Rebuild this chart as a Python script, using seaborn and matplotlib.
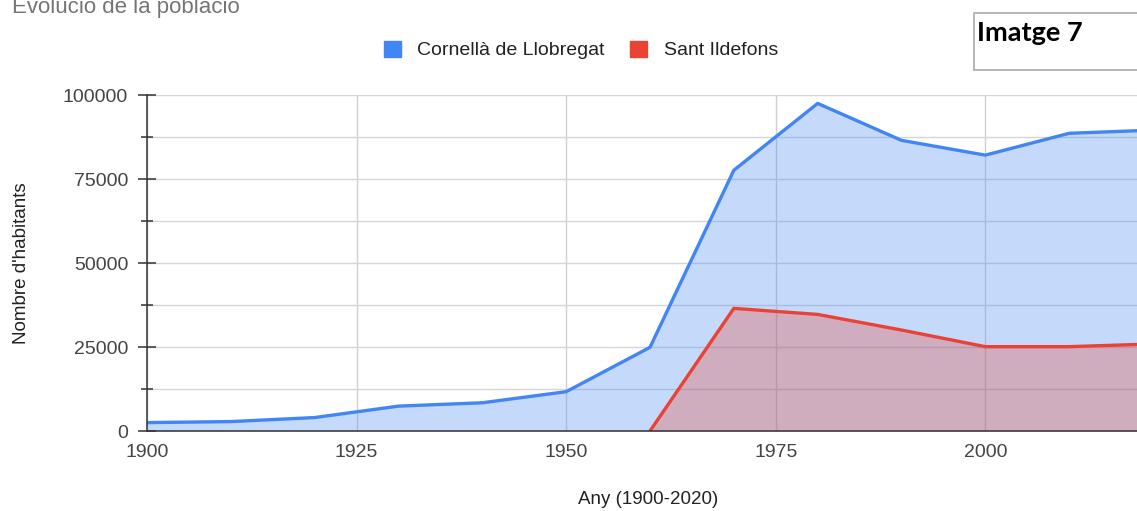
import numpy as np
import pandas as pd
import seaborn as sn
import matplotlib.pyplot as plt
from matplotlib.patches import Patch, Rectangle
from matplotlib.ticker import MultipleLocator

# population values
years = [1900, 1910, 1920, 1930, 1940, 1950, 1960, 1970, 1980, 1990, 2000, 2010, 2020]
cornella = [2500, 2800, 4000, 7400, 8400, 11700, 24900, 77600, 97500, 86500, 82100, 88600, 89550]
sant_ildefons = [np.nan, np.nan, np.nan, np.nan, np.nan, np.nan, 0, 36500, 34700, 30050, 25100, 25100, 25900]
series_names = ["Cornellà de Llobregat", "Sant Ildefons"]
series_colors = ["#4285F4", "#EA4335"]
x_ticks = [1900, 1925, 1950, 1975, 2000]

df = pd.DataFrame({"Any": years, series_names[0]: cornella, series_names[1]: sant_ildefons})

sn.set_style("white")
plt.rcParams["font.family"] = ["Liberation Sans", "DejaVu Sans"]

fig = plt.figure(figsize=(11.37, 5.11), dpi=100)
# plot area runs past the right edge, like the cropped screenshot
ax = fig.add_axes([147 / 1137, 80 / 511, 1006 / 1137, 336 / 511])

for name, col in zip(series_names, series_colors):
    d = df[["Any", name]].dropna()
    ax.fill_between(d["Any"], 0, d[name], color=col, alpha=0.3, linewidth=0, zorder=2)
for name, col in zip(series_names, series_colors):
    d = df[["Any", name]].dropna()
    sn.lineplot(data=d, x="Any", y=name, ax=ax, color=col, linewidth=2.4, zorder=3)

ax.set_xlim(1900, 2020)
ax.set_ylim(0, 100000)
ax.set_xticks(x_ticks)
ax.yaxis.set_major_locator(MultipleLocator(25000))
ax.yaxis.set_minor_locator(MultipleLocator(12500))

ax.grid(True, which="major", axis="x", color="#d0d0d0", linewidth=1.0, zorder=0)
ax.grid(True, which="both", axis="y", color="#d6d6d6", linewidth=1.0, zorder=0)
ax.set_axisbelow(True)

for s in ["top", "right"]:
    ax.spines[s].set_visible(False)
for s in ["left", "bottom"]:
    ax.spines[s].set_color("#333333")
    ax.spines[s].set_linewidth(1.1)
    ax.spines[s].set_zorder(5)

ax.tick_params(axis="x", length=0, pad=9, labelsize=14, labelcolor="#444444")
ax.tick_params(axis="y", which="major", left=True, direction="inout", length=13, width=1.1,
               color="#333333", pad=7, labelsize=14, labelcolor="#444444")
ax.tick_params(axis="y", which="minor", left=True, direction="inout", length=8.5, width=1.1,
               color="#333333")

ax.set_xlabel("Any (1900-2020)", fontsize=13.5, color="#222222")
ax.set_ylabel("Nombre d'habitants", fontsize=13.5, color="#222222")
ax.xaxis.set_label_coords((648 - 147) / 1006, (431 - 491) / 336)
ax.yaxis.set_label_coords((30 - 147) / 1006, 0.5)

handles = [Patch(facecolor=c, edgecolor=c) for c in series_colors]
fig.legend(handles, series_names, loc="center", bbox_to_anchor=(581 / 1137, 1 - 50 / 511),
           ncol=2, frameon=False, fontsize=14, handlelength=0.88, handleheight=0.88,
           handletextpad=0.85, columnspacing=1.3, labelcolor="#222222")

# chart title, cut by the top edge as in the screenshot
fig.text(12 / 1137, 1 - 13.5 / 511, "Evolució de la població", fontsize=16,
         color="#757575", ha="left", va="baseline")

# "Imatge 7" box pasted over the corner
fig.patches.append(Rectangle((974 / 1137, 1 - 70 / 511), 0.2, 57 / 511, transform=fig.transFigure,
                             facecolor="white", edgecolor="#aaaaaa", linewidth=1.2, zorder=10))
fig.text(977 / 1137, 1 - 41 / 511, "Imatge 7", fontsize=19.5, fontweight="bold",
         family=["Lato", "DejaVu Sans"], color="black", ha="left", va="baseline", zorder=11)

plt.savefig("out.png", dpi=100)
plt.close("all")
